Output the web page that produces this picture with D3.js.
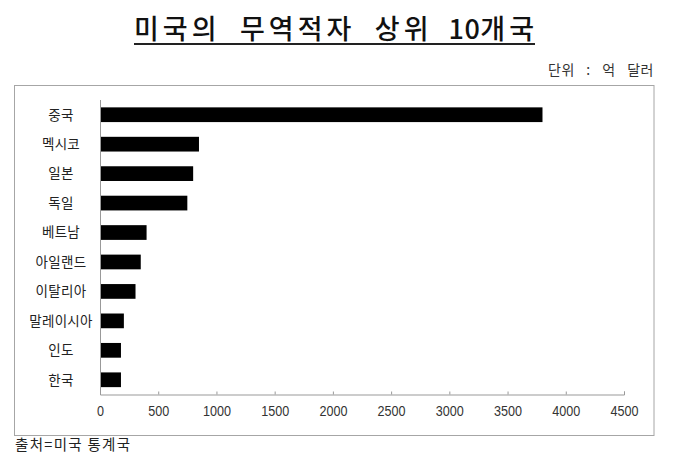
<!DOCTYPE html>
<html>
<head>
<meta charset="utf-8">
<script src="https://cdn.jsdelivr.net/npm/d3@7"></script>
<style>
  body { margin: 0; background: #fff; }
  svg { display: block; }
  .kr { font-family: "Noto Sans CJK KR", "Noto Sans", sans-serif; }
  .tick text { font-family: "Liberation Sans", Arial, sans-serif; }
</style>
</head>
<body>
<div id="chart"></div>
<script>
// 미국의 무역적자 상위 10개국 (단위: 억 달러)
const countries = ["중국", "멕시코", "일본", "독일", "베트남", "아일랜드", "이탈리아", "말레이시아", "인도", "한국"];
const deficits = [3800, 850, 800, 750, 400, 350, 305, 205, 180, 180];
const xTicks = [0, 500, 1000, 1500, 2000, 2500, 3000, 3500, 4000, 4500];

const titleWords = ["미국의", "무역적자", "상위", "10개국"];
const unitText = "단위 : 억 달러";
const sourceText = "출처=미국 통계국";

const W = 680, H = 467;
const margin = {top: 100, left: 100};
const plotW = 524, plotH = 294.5;

const svg = d3.select("#chart").append("svg")
    .attr("width", W)
    .attr("height", H);

svg.append("rect").attr("width", W).attr("height", H).attr("fill", "#fff");

// outer frame of the chart area
svg.append("rect")
    .attr("x", 14.5).attr("y", 85.5)
    .attr("width", 639.5).attr("height", 350)
    .attr("fill", "none")
    .attr("stroke", "#a6a6a6")
    .attr("stroke-width", 1);

// spread a line of text out to a given width by widening the spaces
function fitWords(sel, width) {
    let n = sel.text().split(" ").length - 1;
    let len = sel.node().getComputedTextLength();
    sel.attr("word-spacing", (width - len) / n);
}

// title, underlined; digits keep normal spacing
let title = svg.append("text")
    .attr("class", "kr")
    .attr("x", 134).attr("y", 39)
    .attr("font-size", 27)
    .attr("font-weight", 500)
    .attr("fill", "#111");
titleWords.forEach((w, i) => {
    let parts = w.match(/\d+|\D+/g);
    parts.forEach((p, j) => {
        let txt = (i > 0 && j == 0 ? " " : "") + p;
        title.append("tspan")
            .attr("letter-spacing", /\d/.test(p) ? 0.5 : 4)
            .text(txt);
    });
});
fitWords(title, 404);

svg.append("line")
    .attr("x1", 134).attr("x2", 535)
    .attr("y1", 44).attr("y2", 44)
    .attr("stroke", "#222")
    .attr("stroke-width", 2);

let unit = svg.append("text")
    .attr("class", "kr")
    .attr("x", 548).attr("y", 75)
    .attr("font-size", 14)
    .attr("letter-spacing", 0.5)
    .attr("fill", "#333")
    .text(unitText);
fitWords(unit, 106);

svg.append("text")
    .attr("class", "kr")
    .attr("x", 15).attr("y", 450)
    .attr("font-size", 14.5)
    .attr("letter-spacing", 1.3)
    .attr("fill", "#222")
    .text(sourceText);

const x = d3.scaleLinear().domain([0, 4500]).range([0, plotW]);
const y = d3.scaleBand().domain(countries).range([0, plotH]).paddingInner(0.5).paddingOuter(0.25);

const g = svg.append("g").attr("transform", `translate(${margin.left}, ${margin.top})`);

// bars
g.selectAll("rect.bar")
    .data(countries)
    .enter().append("rect")
    .attr("class", "bar")
    .attr("x", 0)
    .attr("y", (d) => y(d))
    .attr("width", (d, i) => x(deficits[i]))
    .attr("height", y.bandwidth())
    .attr("fill", "#000");

// x axis, ticks pointing up into the plot
const xAxis = g.append("g")
    .attr("transform", `translate(0, ${plotH})`)
    .call(d3.axisBottom(x).tickValues(xTicks).tickSize(-3).tickPadding(0).tickFormat(d3.format("d")));
xAxis.select(".domain").attr("stroke", "#999");
xAxis.selectAll(".tick line").attr("stroke", "#999");
xAxis.selectAll(".tick text")
    .attr("y", 12)
    .attr("font-size", 14)
    .attr("transform", "scale(0.9, 1)")
    .attr("fill", "#333");

// y axis line
g.append("line")
    .attr("x1", 0.5).attr("x2", 0.5)
    .attr("y1", 0).attr("y2", plotH)
    .attr("stroke", "#999");

// category labels, centred in the left gutter
g.selectAll("text.cat")
    .data(countries)
    .enter().append("text")
    .attr("class", "cat kr")
    .attr("x", -39)
    .attr("y", (d) => y(d) + y.bandwidth() / 2)
    .attr("dy", "0.36em")
    .attr("text-anchor", "middle")
    .attr("font-size", 13.5)
    .attr("letter-spacing", 0.3)
    .attr("fill", "#222")
    .text((d) => d);
</script>
</body>
</html>
